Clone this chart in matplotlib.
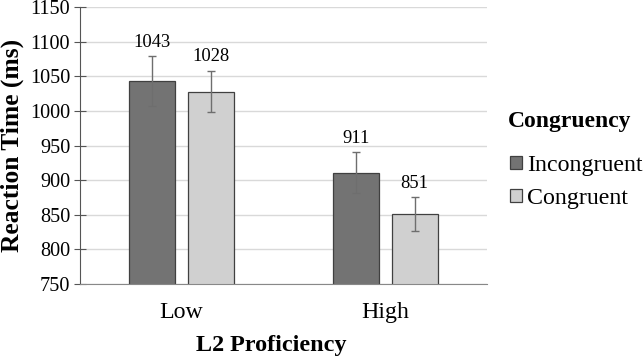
import numpy as np
import matplotlib.pyplot as plt
from matplotlib.patches import Patch

# data
groups = ['Low', 'High']
series = ['Incongruent', 'Congruent']
incongruent = [1043, 911]
congruent = [1028, 851]
incongruent_err = [36, 29]
congruent_err = [30, 24]

plt.rcParams['font.family'] = ['Liberation Serif', 'DejaVu Serif']

fig = plt.figure(figsize=(6.44, 3.58), dpi=100)
ax = fig.add_axes([0.124, 0.207, 0.632, 0.773])

x = np.arange(len(groups))
w = 0.226
off = 0.145
colors = ['#737373', '#d0d0d0']

for vals, errs, sign, col in [(incongruent, incongruent_err, -1, colors[0]),
                              (congruent, congruent_err, 1, colors[1])]:
    pos = x + sign * off
    ax.bar(pos, vals, width=w, color=col, edgecolor='#404040', linewidth=0.9,
           zorder=2)
    ax.errorbar(pos, vals, yerr=errs, fmt='none', ecolor='#6e6e6e',
                elinewidth=1.0, capsize=3, capthick=1.0, zorder=3)
    for p, v, e in zip(pos, vals, errs):
        ax.annotate(str(v), (p, v + e), xytext=(0, 4), textcoords='offset points',
                    ha='center', va='bottom', fontsize=13.3)

ax.set_ylim(750, 1150)
ax.set_xlim(-0.5, 1.5)
ax.set_yticks(np.arange(750, 1151, 50))
ax.set_xticks(x)
ax.set_xticklabels(groups, fontsize=17.2)
ax.tick_params(axis='y', labelsize=14.6, direction='inout', length=8,
               color='#555555', pad=3)
ax.tick_params(axis='x', length=0, pad=13)
ax.grid(axis='y', color='#d9d9d9', linewidth=1.0, zorder=0)
ax.set_axisbelow(True)
for s in ['top', 'right']:
    ax.spines[s].set_visible(False)
ax.spines['left'].set_color('#555555')
ax.spines['bottom'].set_color('#888888')

ax.set_ylabel('Reaction Time (ms)', fontsize=18.4, fontweight='bold', labelpad=4)
ax.set_xlabel('L2 Proficiency', fontsize=17.4, fontweight='bold')
ax.xaxis.set_label_coords(0.47, -0.185)

# legend: title as separate text so the gap matches
fig.text(508 / 644, 1 - 122 / 358, 'Congruency', fontsize=17, fontweight='bold',
         ha='left', va='center')
handles = [Patch(facecolor=c, edgecolor='#404040', linewidth=0.9) for c in colors]
fig.legend(handles, series, loc='center left',
           bbox_to_anchor=(510 / 644, 1 - 182 / 358), frameon=False,
           fontsize=17.2, borderpad=0, borderaxespad=0,
           handlelength=0.5, handleheight=0.5, handletextpad=0.2,
           labelspacing=0.5)

fig.savefig('out.png', dpi=100)
